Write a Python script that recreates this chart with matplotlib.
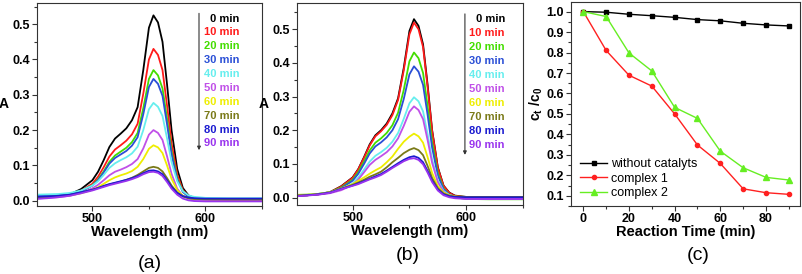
import matplotlib
matplotlib.use("Agg")
import matplotlib.pyplot as plt
from matplotlib.ticker import MultipleLocator

plt.rcParams["font.family"] = ["Liberation Sans", "DejaVu Sans"]
plt.rcParams["mathtext.fontset"] = "custom"
plt.rcParams["mathtext.rm"] = "Liberation Sans"
plt.rcParams["mathtext.bf"] = "Liberation Sans:bold"

# ---- data ----
times = [0, 10, 20, 30, 40, 50, 60, 70, 80, 90]
colors = ["#000000", "#ff1a1a", "#44dd00", "#2a4fd6", "#66eeee",
          "#c050e8", "#eeee00", "#7a7a18", "#1a1ad0", "#9933ee"]

wl = [450, 460, 470, 480, 490, 500, 505, 510, 515, 520, 525, 530, 535, 540,
      545, 550, 554, 558, 562, 566, 570, 575, 580, 585, 590, 600, 620, 650]

# panel (a): absorbance vs wavelength, complex 1
a_0 = [.012, .013, .014, .018, .033, .058, .082, .115, .152, .176, .19, .205, .228, .265,
       .37, .49, .525, .505, .45, .33, .2, .09, .036, .015, .008, .005, .005, .005]
a_10 = [.012, .012, .013, .016, .028, .048, .068, .095, .125, .145, .157, .17, .188, .218,
        .303, .40, .43, .413, .37, .27, .163, .074, .03, .013, .007, .005, .005, .005]
a_20 = [.013, .013, .014, .017, .026, .044, .06, .083, .11, .128, .139, .15, .166, .192,
        .262, .345, .37, .355, .318, .233, .14, .064, .026, .012, .007, .005, .005, .005]
a_30 = [.014, .014, .015, .018, .026, .043, .058, .08, .105, .121, .131, .141, .156, .18,
        .245, .322, .345, .331, .297, .217, .131, .06, .025, .011, .007, .005, .005, .005]
a_40 = [.017, .018, .019, .022, .029, .043, .055, .073, .093, .106, .115, .123, .134, .153,
        .2, .259, .277, .266, .24, .177, .11, .055, .027, .015, .011, .008, .007, .007]
a_50 = [.006, .008, .01, .014, .022, .035, .045, .058, .072, .082, .088, .095, .104, .118,
        .148, .187, .2, .192, .172, .126, .076, .034, .013, .006, .003, .002, .001, .001]
a_60 = [.01, .011, .012, .015, .021, .031, .038, .048, .058, .066, .072, .077, .084, .096,
        .118, .147, .157, .151, .135, .1, .062, .03, .014, .008, .005, .004, .004, .004]
a_70 = [.008, .01, .012, .016, .023, .031, .036, .041, .046, .05, .054, .059, .065, .073,
        .083, .093, .096, .093, .083, .064, .043, .023, .012, .007, .005, .004, .003, .003]
a_80 = [.011, .012, .014, .017, .024, .031, .036, .042, .047, .051, .055, .059, .064, .07,
        .078, .085, .086, .083, .075, .058, .039, .022, .013, .009, .007, .006, .006, .006]
a_90 = [.005, .007, .01, .014, .021, .029, .034, .039, .044, .048, .052, .056, .061, .067,
        .075, .081, .082, .079, .07, .053, .034, .017, .006, .001, -.001, -.002, -.002, -.002]

# panel (b): absorbance vs wavelength, complex 2
b_0 = [.006, .007, .01, .016, .034, .06, .085, .12, .158, .185, .2, .22, .25, .295,
       .385, .495, .53, .51, .455, .335, .2, .09, .036, .015, .006, .002, .001, .001]
b_10 = [.006, .007, .01, .016, .033, .059, .084, .118, .155, .182, .197, .216, .245, .29,
        .378, .485, .52, .50, .447, .328, .197, .088, .035, .014, .005, .001, .0, .0]
b_20 = [.007, .008, .011, .016, .03, .053, .076, .107, .14, .163, .176, .192, .215, .252,
        .32, .405, .431, .414, .37, .272, .164, .073, .027, .009, .001, -.004, -.005, -.005]
b_30 = [.007, .008, .011, .016, .028, .05, .071, .1, .131, .152, .164, .179, .2, .233,
        .293, .366, .39, .374, .335, .246, .148, .066, .025, .009, .002, -.002, -.003, -.003]
b_40 = [.008, .009, .011, .015, .025, .042, .06, .083, .107, .124, .135, .148, .166, .192,
        .234, .28, .298, .286, .256, .188, .113, .051, .02, .008, .003, .0, .0, .0]
b_50 = [.006, .007, .009, .013, .022, .038, .054, .075, .097, .112, .123, .135, .152, .176,
        .213, .255, .271, .26, .233, .171, .103, .046, .017, .006, .0, -.003, -.004, -.004]
b_60 = [.008, .009, .011, .016, .027, .04, .05, .06, .071, .081, .09, .105, .122, .145,
        .166, .181, .19, .182, .163, .12, .073, .034, .015, .007, .003, .002, .002, .002]
b_70 = [.006, .007, .01, .015, .026, .038, .045, .053, .062, .069, .077, .09, .105, .118,
        .132, .142, .147, .141, .126, .094, .058, .028, .012, .006, .003, .002, .002, .002]
b_80 = [.005, .007, .01, .015, .026, .036, .042, .049, .056, .063, .07, .08, .091, .102,
        .112, .12, .123, .118, .105, .079, .05, .024, .01, .004, .002, .001, .001, .001]
b_90 = [.004, .006, .009, .014, .025, .035, .04, .047, .054, .06, .067, .077, .088, .098,
        .108, .115, .117, .112, .099, .074, .046, .021, .007, .001, -.002, -.004, -.004, -.004]

spectra_a = [a_0, a_10, a_20, a_30, a_40, a_50, a_60, a_70, a_80, a_90]
spectra_b = [b_0, b_10, b_20, b_30, b_40, b_50, b_60, b_70, b_80, b_90]

# panel (c): ct/c0 vs reaction time
t_min = [0, 10, 20, 30, 40, 50, 60, 70, 80, 90]
no_cat = [1.0, 0.997, 0.987, 0.98, 0.972, 0.961, 0.955, 0.943, 0.935, 0.93]
complex1 = [1.0, 0.81, 0.689, 0.636, 0.50, 0.348, 0.258, 0.134, 0.115, 0.107]
complex2 = [1.0, 0.976, 0.798, 0.71, 0.532, 0.478, 0.318, 0.237, 0.19, 0.177]

W, H = 802, 274
fig = plt.figure(figsize=(W / 100, H / 100), dpi=100)


def add_ax(left, right, top, bottom):
    return fig.add_axes([left / W, 1 - bottom / H, (right - left) / W, (bottom - top) / H])


def style(ax):
    for s in ax.spines.values():
        s.set_color("#333333")
        s.set_linewidth(0.8)
    ax.tick_params(which="both", direction="out", top=False, right=False,
                   labelsize=9, width=0.8, color="#333333", pad=1.5)
    ax.tick_params(which="major", length=3.5)
    ax.tick_params(which="minor", length=2)
    for lab in ax.get_xticklabels() + ax.get_yticklabels():
        lab.set_fontweight("bold")


def spectra_panel(ax, spectra, ylim, txt_x, txt_top, txt_step, arr_x, arr_y0, arr_y1):
    for spec, c in zip(spectra, colors):
        ax.plot(wl, spec, color=c, lw=1.3)
    ax.set_xlim(451, 650)
    ax.set_ylim(*ylim)
    ax.xaxis.set_major_locator(MultipleLocator(100))
    ax.xaxis.set_minor_locator(MultipleLocator(50))
    ax.yaxis.set_major_locator(MultipleLocator(0.1))
    ax.yaxis.set_minor_locator(MultipleLocator(0.05))
    ax.set_xlabel("Wavelength (nm)", fontsize=10.5, fontweight="bold", labelpad=0)
    ax.set_ylabel("A", fontsize=10, fontweight="bold", rotation=0, labelpad=6, va="center")
    for i, (t, c) in enumerate(zip(times, colors)):
        ax.text(txt_x, txt_top - i * txt_step, f"{t} min", color=c, fontsize=8,
                fontweight="bold", ha="right", va="center", transform=ax.transAxes)
    ax.annotate("", xy=(arr_x, arr_y1), xytext=(arr_x, arr_y0), xycoords="axes fraction",
                arrowprops=dict(arrowstyle="-|>", color="#333333", lw=0.8,
                                mutation_scale=5, shrinkA=0, shrinkB=0))
    style(ax)


ax1 = add_ax(37, 262, 3, 206)
spectra_panel(ax1, spectra_a, (-0.015, 0.56), 0.9, 0.923, 0.0683, 0.72, 0.949, 0.275)

ax2 = add_ax(297, 523, 3, 205)
spectra_panel(ax2, spectra_b, (-0.022, 0.578), 0.92, 0.921, 0.0692, 0.743, 0.946, 0.248)

ax3 = add_ax(571, 800, 2, 206)
ax3.plot(t_min, no_cat, color="#000000", marker="s", ms=3.5, lw=1, label="without catalyts")
ax3.plot(t_min, complex1, color="#ff2020", marker="o", ms=3, lw=1, label="complex 1")
ax3.plot(t_min, complex2, color="#66ee22", marker="^", ms=4, lw=1, label="complex 2")
ax3.set_xlim(-5.4, 94.9)
ax3.set_ylim(0.05, 1.047)
ax3.xaxis.set_major_locator(MultipleLocator(20))
ax3.xaxis.set_minor_locator(MultipleLocator(10))
ax3.yaxis.set_major_locator(MultipleLocator(0.1))
ax3.yaxis.set_minor_locator(MultipleLocator(0.05))
ax3.set_xlabel("Reaction Time (min)", fontsize=10.5, fontweight="bold", labelpad=0)
ax3.set_ylabel(r"c$_\mathbf{t}$ /c$_\mathbf{0}$", fontsize=10, fontweight="bold", labelpad=1)
ax3.legend(loc="lower left", bbox_to_anchor=(0.0, -0.01), frameon=False, fontsize=9,
           handlelength=2.2, handletextpad=0.3, labelspacing=0.2, borderaxespad=0.3)
style(ax3)

fig.text(150 / W, 1 - 263 / H, "(a)", fontsize=14, ha="center", va="center")
fig.text(408 / W, 1 - 256 / H, "(b)", fontsize=14, ha="center", va="center")
fig.text(698 / W, 1 - 255 / H, "(c)", fontsize=14, ha="center", va="center")

fig.savefig("out.png", dpi=100)
